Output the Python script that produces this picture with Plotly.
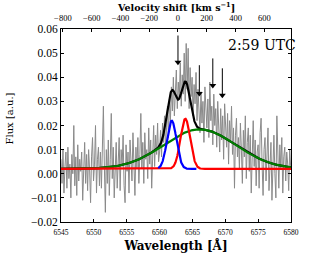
import numpy as np
import plotly.graph_objects as go

# ---------------- data ----------------
wl_start = 6545.0
wl_step = 0.15
flux = [
    0.006, -0.004, 0.010, -0.008, 0.003, 0.009, -0.006, 0.011, -0.002, 0.004, -0.010, 0.008, 0.000, 0.020, -0.005, 0.007, -0.009, 0.012, -0.003, 0.006,
    0.001, 0.009, -0.011, 0.005, 0.013, -0.004, 0.008, -0.007, 0.010, 0.002, -0.012, 0.007, 0.015, -0.003, 0.004, 0.020, -0.008, 0.006, 0.011, -0.005,
    0.009, -0.006, 0.012, 0.028, 0.003, -0.016, 0.010, -0.004, 0.014, -0.009, 0.006, 0.025, -0.002, 0.011, -0.010, 0.008, 0.013, -0.006, 0.004, 0.015,
    -0.007, 0.010, 0.003, 0.016, -0.005, -0.012, 0.012, 0.001, 0.009, -0.008, 0.014, 0.004, -0.003, 0.017, 0.006, -0.009, 0.011, 0.002, 0.015, -0.004,
    0.008, 0.025, 0.002, 0.013, -0.004, 0.017, 0.006, 0.010, -0.002, 0.019, 0.004, 0.014, -0.006, 0.012, 0.020, 0.003, 0.016, 0.008, 0.021, 0.005,
    0.009, 0.018, 0.007, 0.021, 0.013, 0.024, 0.010, 0.019, 0.028, 0.015, 0.031, 0.022, 0.036, 0.026, 0.040, 0.024, 0.033, 0.043, 0.027, 0.038,
    0.031, 0.046, 0.028, 0.041, 0.033, 0.050, 0.030, 0.054, 0.035, 0.052, 0.027, 0.044, 0.032, 0.040, 0.024, 0.037, 0.029, 0.042, 0.022, 0.035,
    0.026, 0.017, 0.034, 0.021, 0.030, 0.013, 0.036, 0.024, 0.019, 0.031, 0.015, 0.038, 0.022, 0.028, 0.012, 0.033, 0.020, 0.027, 0.011, 0.030,
    0.021, 0.009, 0.027, 0.014, 0.024, 0.006, 0.029, 0.017, 0.011, 0.025, 0.004, 0.022, 0.013, 0.028, 0.008, 0.019, -0.006, 0.016, 0.023, 0.007,
    0.015, 0.002, 0.021, 0.010, -0.004, 0.018, 0.007, 0.024, -0.002, 0.013, 0.019, 0.001, 0.016, -0.008, 0.011, 0.022, 0.003, 0.014, -0.005, 0.009,
    0.012, -0.006, 0.017, 0.023, 0.004, -0.009, 0.010, 0.015, -0.003, 0.008, 0.019, -0.007, 0.006, 0.013, -0.011, 0.009, 0.016, 0.000, -0.010, 0.024,
    0.005, -0.006, 0.012, 0.002, 0.015, -0.008, 0.007, 0.011, -0.003, 0.009, 0.004, -0.007, 0.010, 0.003,
]

# Gaussian fit components (blue, red, green) on a constant continuum
baseline = 0.002
comp_names = ["blue", "red", "green"]
comp_center = [6561.85, 6563.92, 6566.1]
comp_amp = [0.0200, 0.0208, 0.0164]
comp_sigma = [0.72, 0.74, 5.5]
blue_span = [6559.8, 6565.6]

# arrows marking features
arrow_wl = [6562.8, 6566.05, 6568.1, 6569.55]
arrow_tip = [0.0462, 0.0333, 0.0366, 0.0325]
arrow_tail = [0.0573, 0.0450, 0.0478, 0.0437]

label_text = "2:59 UTC"
lam0 = 6562.8
c_kms = 299792.458
x_range = [6545, 6580]
y_range = [-0.02, 0.06]
vel_ticks = [-800, -600, -400, -200, 0, 200, 400, 600]

# ---------------- figure ----------------
wl = wl_start + wl_step * np.arange(len(flux))
grid = np.linspace(x_range[0], x_range[1], 1751)


def gauss(x, a, m, s):
    return a * np.exp(-0.5 * ((x - m) / s) ** 2)


comps = {n: gauss(grid, a, m, s) for n, a, m, s in zip(comp_names, comp_amp, comp_center, comp_sigma)}
total = baseline + comps["blue"] + comps["red"] + comps["green"]

fig = go.Figure()
fig.add_trace(go.Scatter(x=wl, y=flux, mode="lines", line=dict(color="#8a8a8a", width=1), showlegend=False))
fig.add_trace(go.Scatter(x=grid, y=total, mode="lines", line=dict(color="black", width=2.2), showlegend=False))
fig.add_trace(go.Scatter(x=grid, y=baseline + comps["green"], mode="lines", line=dict(color="#007f00", width=2.2), showlegend=False))
fig.add_trace(go.Scatter(x=grid, y=baseline + comps["red"], mode="lines", line=dict(color="#ff0000", width=2.2), showlegend=False))
mask = (grid >= blue_span[0]) & (grid <= blue_span[1])
fig.add_trace(go.Scatter(x=grid[mask], y=baseline + comps["blue"][mask], mode="lines", line=dict(color="#0000ff", width=2.2), showlegend=False))

# arrows: shafts + triangular heads
shaft_x, shaft_y = [], []
for xw, yt, yb in zip(arrow_wl, arrow_tip, arrow_tail):
    shaft_x += [xw, xw, None]
    shaft_y += [yb, yt, None]
fig.add_trace(go.Scatter(x=shaft_x, y=shaft_y, mode="lines", line=dict(color="black", width=1), showlegend=False))
fig.add_trace(go.Scatter(x=arrow_wl, y=arrow_tip, mode="markers",
                         marker=dict(symbol="triangle-down", size=6, color="black"), showlegend=False))

vmin = (x_range[0] / lam0 - 1) * c_kms
vmax = (x_range[1] / lam0 - 1) * c_kms
fig.add_trace(go.Scatter(x=[vmin, vmax], y=[None, None], xaxis="x2", mode="lines", showlegend=False, hoverinfo="skip"))

fig.add_annotation(x=1.03, y=0.918, xref="paper", yref="paper", xanchor="right", yanchor="middle",
                   text=label_text, showarrow=False, font=dict(size=14, color="black", family="DejaVu Serif"))
fig.add_annotation(x=0.5, y=1.115, xref="paper", yref="paper", xanchor="center", yanchor="middle",
                   text="<b>Velocity shift [km s<sup>−1</sup>]</b>", showarrow=False,
                   font=dict(size=9.5, color="black", family="DejaVu Serif"))
fig.add_annotation(x=-0.222, y=0.536, xref="paper", yref="paper", xanchor="center", yanchor="middle",
                   text="Flux [a.u.]", textangle=-90, showarrow=False,
                   font=dict(size=10, color="black", family="DejaVu Serif"))

tickfam = "Liberation Serif"
axis_common = dict(showline=True, linecolor="black", linewidth=1, ticks="inside", ticklen=3,
                   tickcolor="black", showgrid=False, zeroline=False, automargin=False)

fig.update_layout(
    width=311, height=256,
    margin=dict(l=61, r=20, t=29, b=34),
    paper_bgcolor="white", plot_bgcolor="white",
    font=dict(family="DejaVu Serif", color="black"),
    xaxis=dict(range=x_range, dtick=5, tick0=6545, mirror=True, tickfont=dict(size=7.5, family=tickfam),
               ticklabelstandoff=3,
               title=dict(text="<b>Wavelength [Å]</b>", font=dict(size=12), standoff=5), **axis_common),
    xaxis2=dict(range=[vmin, vmax], overlaying="x", side="top", anchor="y", tickvals=vel_ticks,
                tickfont=dict(size=8.5, family=tickfam), ticklabelstandoff=4, **axis_common),
    yaxis=dict(range=y_range, dtick=0.01, tick0=0, tickformat=".2f", mirror="ticks",
               tickfont=dict(size=11.5, family=tickfam), **axis_common),
)

fig.write_html("out.html", config={"displayModeBar": False},
               post_script="document.body.style.margin='0';")
